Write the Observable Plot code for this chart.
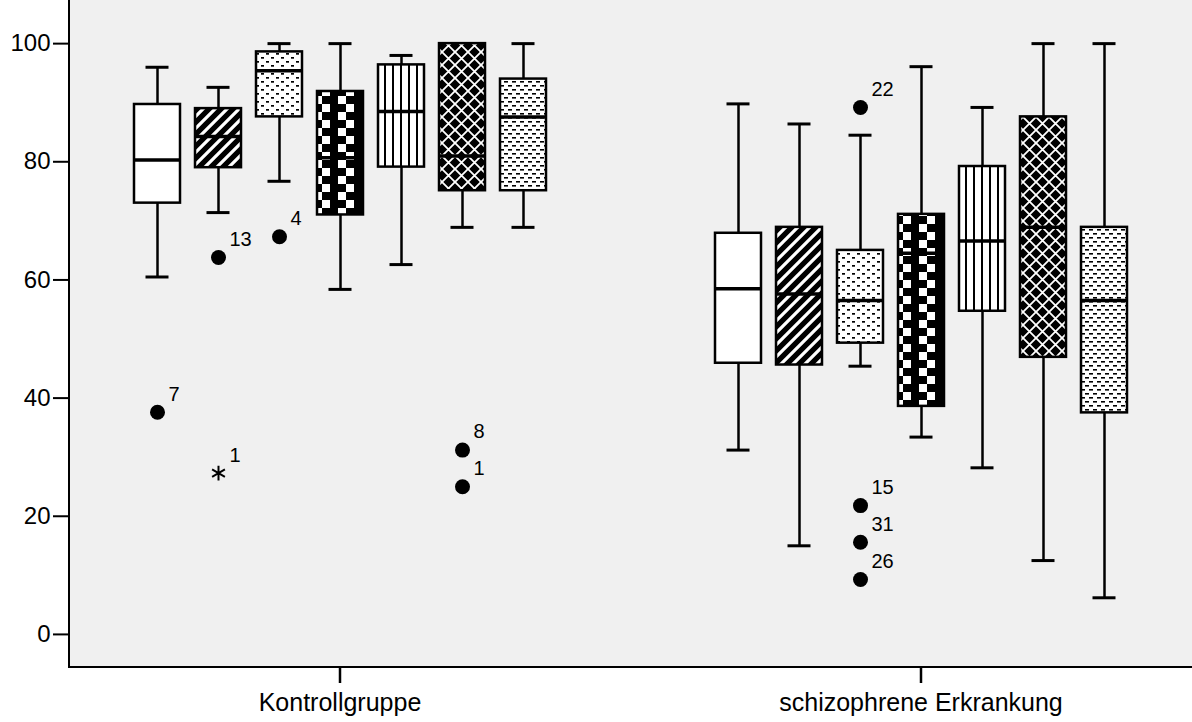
<!DOCTYPE html>
<html>
<head>
<meta charset="utf-8">
<script src="https://cdn.jsdelivr.net/npm/d3@7"></script>
<script src="https://cdn.jsdelivr.net/npm/@observablehq/plot@0.6"></script>
<style>
  body { margin: 0; background: #ffffff; }
  #chart svg { display: block; }
</style>
</head>
<body>
<div id="chart"></div>
<script>
// ---------- data ----------
const groups = ["Kontrollgruppe", "schizophrene Erkrankung"];
const subscales = ["Skala 1", "Skala 2", "Skala 3", "Skala 4", "Skala 5", "Skala 6", "Skala 7"];
const yTicks = [0, 20, 40, 60, 80, 100];

// Kontrollgruppe
const kWhiskerLow  = [60.5, 71.4, 76.7, 58.4, 62.6, 68.9, 68.9];
const kQ1          = [73.0, 79.0, 87.6, 71.0, 79.1, 75.1, 75.1];
const kMedian      = [80.3, 84.3, 95.4, 80.7, 88.5, 81.0, 87.6];
const kQ3          = [89.7, 89.0, 98.6, 91.9, 96.4, 100.0, 94.0];
const kWhiskerHigh = [96.0, 92.6, 100.0, 100.0, 98.0, 100.0, 100.0];

// schizophrene Erkrankung
const sWhiskerLow  = [31.2, 15.0, 45.4, 33.4, 28.2, 12.5, 6.2];
const sQ1          = [45.9, 45.6, 49.3, 38.6, 54.7, 46.9, 37.5];
const sMedian      = [58.5, 57.6, 56.5, 64.5, 66.6, 68.9, 56.5];
const sQ3          = [67.9, 68.9, 65.0, 71.1, 79.2, 87.6, 68.9];
const sWhiskerHigh = [89.8, 86.4, 84.5, 96.1, 89.2, 100.0, 100.0];

// outliers
const outlierGroup  = ["Kontrollgruppe", "Kontrollgruppe", "Kontrollgruppe", "Kontrollgruppe", "Kontrollgruppe", "Kontrollgruppe",
                       "schizophrene Erkrankung", "schizophrene Erkrankung", "schizophrene Erkrankung", "schizophrene Erkrankung"];
const outlierSeries = ["Skala 1", "Skala 2", "Skala 2", "Skala 3", "Skala 6", "Skala 6",
                       "Skala 3", "Skala 3", "Skala 3", "Skala 3"];
const outlierValue  = [37.6, 63.8, 27.3, 67.3, 31.2, 25.0, 89.2, 21.8, 15.6, 9.3];
const outlierLabel  = ["7", "13", "1", "4", "8", "1", "22", "15", "31", "26"];
const outlierExtreme = [false, false, true, false, false, false, false, false, false, false];

// ---------- tables ----------
const stats = [
  [kWhiskerLow, kQ1, kMedian, kQ3, kWhiskerHigh],
  [sWhiskerLow, sQ1, sMedian, sQ3, sWhiskerHigh]
];
const boxes = [];
groups.forEach((g, gi) => {
  const [lo, q1, md, q3, hi] = stats[gi];
  subscales.forEach((s, i) => {
    boxes.push({group: g, series: s, low: lo[i], q1: q1[i], median: md[i], q3: q3[i], high: hi[i]});
  });
});
const outliers = outlierValue.map((v, i) => ({
  group: outlierGroup[i], series: outlierSeries[i], value: v, label: outlierLabel[i], extreme: outlierExtreme[i]
}));

const patternFills = subscales.map((_, i) => `url(#pat${i})`);

// ---------- plot ----------
const W = 1192, H = 722, mL = 69, mB = 55;
const font = "'Liberation Sans', Arial, Helvetica, sans-serif";

const chart = Plot.plot({
  width: W,
  height: H,
  marginLeft: mL,
  marginRight: 0,
  marginTop: 0,
  marginBottom: mB,
  style: {fontFamily: font, background: "transparent", color: "black", overflow: "visible"},
  fx: {domain: groups, paddingInner: 0.0687, paddingOuter: 0, label: null},
  x: {domain: subscales, paddingInner: 0.248, paddingOuter: 1.052, axis: null},
  y: {domain: [-5.6, 107.3], label: null},
  color: {domain: subscales, range: patternFills},
  marks: [
    Plot.axisY({ticks: yTicks, tickSize: 16, tickPadding: 3, fontSize: 24, label: null, strokeWidth: 2}),
    Plot.axisFx({anchor: "bottom", tickSize: 16, tickPadding: 10, fontSize: 25, label: null, strokeWidth: 2.5}),
    Plot.ruleX(boxes, {fx: "group", x: "series", y1: "low", y2: "q1", strokeWidth: 2.5}),
    Plot.ruleX(boxes, {fx: "group", x: "series", y1: "q3", y2: "high", strokeWidth: 2.5}),
    Plot.tickY(boxes, {fx: "group", x: "series", y: "low", strokeWidth: 3, insetLeft: 11.5, insetRight: 11.5}),
    Plot.tickY(boxes, {fx: "group", x: "series", y: "high", strokeWidth: 3, insetLeft: 11.5, insetRight: 11.5}),
    Plot.barY(boxes, {fx: "group", x: "series", y1: "q1", y2: "q3", fill: "series", stroke: "black", strokeWidth: 2.5, inset: 0}),
    Plot.tickY(boxes, {fx: "group", x: "series", y: "median", strokeWidth: 3.5}),
    Plot.dot(outliers.filter(d => !d.extreme), {fx: "group", x: "series", y: "value", r: 7.5, fill: "black", stroke: null}),
    Plot.dot(outliers.filter(d => d.extreme), {fx: "group", x: "series", y: "value", symbol: "asterisk", r: 7, stroke: "black", strokeWidth: 2, fill: "none"}),
    Plot.text(outliers, {fx: "group", x: "series", y: "value", text: "label", dx: 11, dy: -18, textAnchor: "start", fontSize: 20, fill: "black"})
  ]
});

// ---------- patterns, plot background and frame ----------
const svg = d3.select(chart.tagName.toLowerCase() === "svg" ? chart : chart.querySelector("svg"));
const defs = svg.insert("defs", ":first-child");

function pat(id, w, h) {
  return defs.append("pattern").attr("id", id).attr("patternUnits", "userSpaceOnUse")
    .attr("width", w).attr("height", h);
}
// 0: plain white
pat("pat0", 8, 8).append("rect").attr("width", 8).attr("height", 8).attr("fill", "white");
// 1: diagonal stripes (black with white "/" stripes)
{
  const p = pat("pat1", 12, 12);
  p.append("rect").attr("width", 12).attr("height", 12).attr("fill", "black");
  p.append("path").attr("d", "M-3,3 L3,-3 M0,12 L12,0 M9,15 L15,9").attr("stroke", "white").attr("stroke-width", 3.2);
}
// 2: small dashes staggered
{
  const p = pat("pat2", 10, 8);
  p.append("rect").attr("width", 10).attr("height", 8).attr("fill", "white");
  p.append("rect").attr("x", 1).attr("y", 1).attr("width", 3).attr("height", 1.7).attr("fill", "black");
  p.append("rect").attr("x", 6).attr("y", 5).attr("width", 3).attr("height", 1.7).attr("fill", "black");
}
// 3: checker (black with white squares)
{
  const p = pat("pat3", 24, 16);
  p.append("rect").attr("width", 24).attr("height", 16).attr("fill", "black");
  p.append("rect").attr("x", 2).attr("y", 0).attr("width", 8).attr("height", 8).attr("fill", "white");
  p.append("rect").attr("x", 10).attr("y", 8).attr("width", 8).attr("height", 8).attr("fill", "white");
}
// 4: vertical lines
{
  const p = pat("pat4", 8, 8);
  p.append("rect").attr("width", 8).attr("height", 8).attr("fill", "white");
  p.append("rect").attr("x", 0).attr("width", 2).attr("height", 8).attr("fill", "black");
}
// 5: crosshatch (black with white X lines)
{
  const p = pat("pat5", 13, 13);
  p.append("rect").attr("width", 13).attr("height", 13).attr("fill", "black");
  p.append("path").attr("d", "M-2,-2 L15,15 M15,-2 L-2,15").attr("stroke", "white").attr("stroke-width", 1.8);
}
// 6: fine dense dashes
{
  const p = pat("pat6", 8, 8);
  p.append("rect").attr("width", 8).attr("height", 8).attr("fill", "white");
  p.append("rect").attr("x", 0).attr("y", 1).attr("width", 4).attr("height", 1.6).attr("fill", "black");
  p.append("rect").attr("x", 4).attr("y", 5).attr("width", 4).attr("height", 1.6).attr("fill", "black");
}

const plotBottom = H - mB;
const bg = svg.insert("g", "defs + *");
bg.append("rect").attr("x", mL).attr("y", 0).attr("width", W - mL).attr("height", plotBottom).attr("fill", "#f0f0f0");
svg.append("path").attr("d", `M${mL},0 V${plotBottom} H${W}`).attr("fill", "none").attr("stroke", "black").attr("stroke-width", 2);

document.getElementById("chart").appendChild(chart);
</script>
</body>
</html>
